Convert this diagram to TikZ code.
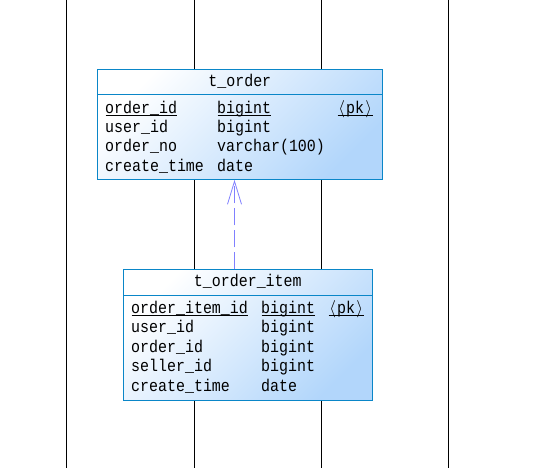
\documentclass[tikz,border=0pt]{standalone}
\usepackage{fontspec}
\newfontfamily\erfont[FakeStretch=0.88]{Liberation Mono}
\usetikzlibrary{arrows.meta,calc}
\definecolor{boxborder}{RGB}{10,134,200}
\definecolor{boxfill}{RGB}{178,214,251}
\definecolor{depcol}{RGB}{128,128,255}
\newcommand{\pktag}{\makebox[9pt]{$\langle$}pk\makebox[9pt]{$\rangle$}}
\tikzset{
  lifeline/.style={draw=black, line width=0.9pt},
  tablebox/.style={draw=boxborder, line width=0.9pt, rectangle, inner sep=0pt,
    top color=white, bottom color=boxfill, shading angle=45, anchor=north west},
  sep/.style={draw=boxborder, line width=0.9pt},
  cell/.style={inner sep=0pt, anchor=base west, font=\erfont\fontsize{17}{20}\selectfont},
  title/.style={inner sep=0pt, anchor=base, font=\erfont\fontsize{17}{20}\selectfont},
  uline/.style={draw=black, line width=0.7pt},
  dep/.style={draw=depcol, line width=0.9pt, dash pattern=on 17pt off 5pt,
    -{Straight Barb[length=23pt,width=14pt,line width=0.8pt]}},
}
\begin{document}
\begin{tikzpicture}[x=1pt,y=-1pt]
\useasboundingbox (0,0) rectangle (534,468);
% lifelines
\foreach \lx/\nm in {66.3/l1,194.3/l2,321.7/l3,448.3/l4}{
  \coordinate (\nm top) at (\lx,0);
  \coordinate (\nm bot) at (\lx,468);
  \draw[lifeline] (\nm top) -- (\nm bot);
}
% t_order
\node[tablebox, minimum width=285pt, minimum height=110.3pt] (ord) at (97.3,68.7) {};
\coordinate (ordsepL) at (97.3,94);
\coordinate (ordsepR) at (382.3,94);
\draw[sep] (ordsepL) -- (ordsepR);
\node[title] (ordt) at (239.8,86.7) {t\_order};
\node[cell] (o1a) at (105,113.3) {order\_id};
\node[cell] (o1b) at (217,113.3) {bigint};
\node[cell] (o1c) at (337,113.3) {\pktag};
\node[cell] (o2a) at (105,132.7) {user\_id};
\node[cell] (o2b) at (217,132.7) {bigint};
\node[cell] (o3a) at (105,151.9) {order\_no};
\node[cell] (o3b) at (217,151.9) {varchar(100)};
\node[cell] (o4a) at (105,171.1) {create\_time};
\node[cell] (o4b) at (217,171.1) {date};
\foreach \n in {o1a,o1b,o1c}{
  \draw[uline] ($(\n.base west)+(0.5,2.3)$) -- ($(\n.base east)+(-0.5,2.3)$);
}
% t_order_item
\node[tablebox, minimum width=249pt, minimum height=130.7pt] (item) at (123.3,269.3) {};
\coordinate (itsepL) at (123.3,295.7);
\coordinate (itsepR) at (372.3,295.7);
\draw[sep] (itsepL) -- (itsepR);
\node[title] (itt) at (247.8,286.7) {t\_order\_item};
\node[cell] (i1a) at (131,313.3) {order\_item\_id};
\node[cell] (i1b) at (261,313.3) {bigint};
\node[cell] (i1c) at (328,313.3) {\pktag};
\node[cell] (i2a) at (131,332.9) {user\_id};
\node[cell] (i2b) at (261,332.9) {bigint};
\node[cell] (i3a) at (131,352.5) {order\_id};
\node[cell] (i3b) at (261,352.5) {bigint};
\node[cell] (i4a) at (131,371.9) {seller\_id};
\node[cell] (i4b) at (261,371.9) {bigint};
\node[cell] (i5a) at (131,391.5) {create\_time};
\node[cell] (i5b) at (261,391.5) {date};
\foreach \n in {i1a,i1b,i1c}{
  \draw[uline] ($(\n.base west)+(0.5,2.3)$) -- ($(\n.base east)+(-0.5,2.3)$);
}
% dependency
\coordinate (depx) at (234.5,0);
\draw[dep] (item.north west -| depx) -- (ord.south west -| depx);
\end{tikzpicture}
\end{document}
